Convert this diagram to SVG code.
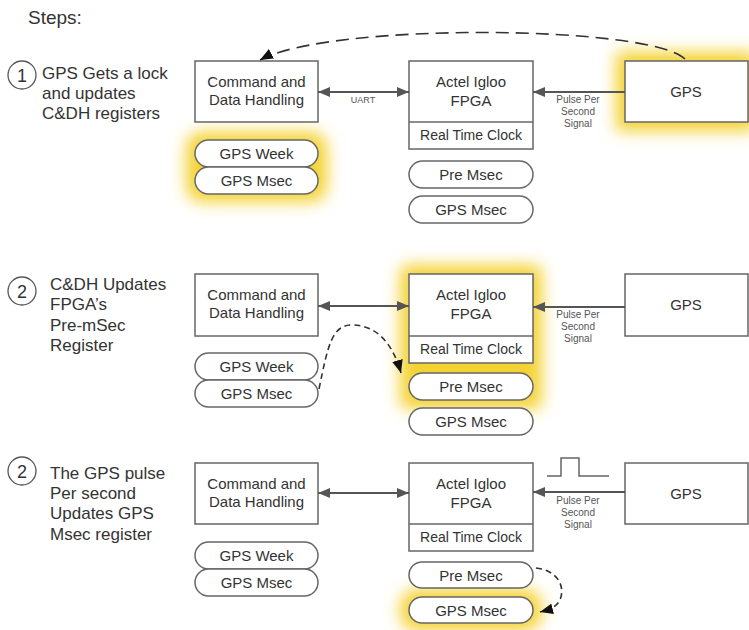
<svg xmlns="http://www.w3.org/2000/svg" width="749" height="630" viewBox="0 0 749 630">
<style>
  text { font-family: "Liberation Sans", Arial, sans-serif; fill: #333; }
  .title { font-size: 19px; }
  .step { font-size: 17px; }
  .num { font-size: 18px; text-anchor: middle; }
  .box { fill: #fff; stroke: #666; stroke-width: 1.5; }
  .lbl { font-size: 15px; text-anchor: middle; }
  .rtc { font-size: 14px; text-anchor: middle; }
  .small { font-size: 10px; text-anchor: middle; fill: #555; }
  .tiny { font-size: 9px; text-anchor: middle; fill: #555; }
  .conn { stroke: #555; stroke-width: 2; fill: none; }
  .dash { stroke: #333; stroke-width: 1.6; fill: none; }
  .glow { fill: #f4d232; filter: url(#blur); }
  .circ { fill: #fff; stroke: #555; stroke-width: 1.3; }
</style>
<defs>
  <filter id="blur" x="-50%" y="-50%" width="200%" height="200%">
    <feGaussianBlur stdDeviation="8"/>
  </filter>
  <marker id="ah" viewBox="0 0 12 10" refX="12" refY="5" markerWidth="12" markerHeight="10" markerUnits="userSpaceOnUse" orient="auto-start-reverse">
    <path d="M0,0 L12,5 L0,10 z" fill="#555"/>
  </marker>
  <marker id="dh" viewBox="0 0 12 10" refX="12" refY="5" markerWidth="13" markerHeight="11" markerUnits="userSpaceOnUse" orient="auto">
    <path d="M0,0 L12,5 L0,10 z" fill="#111"/>
  </marker>
</defs>
<rect width="749" height="630" fill="#fff"/>

<text class="title" x="28" y="24">Steps:</text>

<!-- glows -->
<g id="glows">
  <rect class="glow" x="186" y="132" width="141" height="70" rx="16"/>
  <rect class="glow" x="616" y="52" width="140" height="79"/>
  <rect class="glow" x="400" y="265" width="142" height="144" rx="8"/>
  <rect class="glow" x="400" y="589" width="142" height="42" rx="18"/>
</g>

<!-- Panel 1 -->
<g id="step1-label">
  <circle class="circ" cx="22" cy="75" r="14"/>
  <text class="num" x="22" y="81.5">1</text>
  <text class="step" x="42" y="79">GPS Gets a lock</text>
  <text class="step" x="42" y="99">and updates</text>
  <text class="step" x="42" y="119">C&amp;DH registers</text>
</g>
<g id="p1-cdh">
  <rect class="box" x="195" y="61" width="123" height="61"/>
  <text class="lbl" x="256.5" y="87">Command and</text>
  <text class="lbl" x="256.5" y="105">Data Handling</text>
</g>
<g id="p1-week">
  <rect class="box" x="195" y="140" width="123" height="27" rx="13.5"/>
  <text class="lbl" x="256.5" y="159">GPS Week</text>
</g>
<g id="p1-msec">
  <rect class="box" x="195" y="167" width="123" height="27" rx="13.5"/>
  <text class="lbl" x="256.5" y="186">GPS Msec</text>
</g>
<g id="p1-fpga">
  <rect class="box" x="409" y="61" width="124" height="88"/>
  <line x1="409" y1="122" x2="533" y2="122" stroke="#666" stroke-width="1.5"/>
  <text class="lbl" x="471" y="87">Actel Igloo</text>
  <text class="lbl" x="471" y="106">FPGA</text>
  <text class="rtc" x="471" y="140">Real Time Clock</text>
</g>
<g id="p1-pre">
  <rect class="box" x="409" y="161" width="124" height="27" rx="13.5"/>
  <text class="lbl" x="471" y="180">Pre Msec</text>
</g>
<g id="p1-fmsec">
  <rect class="box" x="409" y="196" width="124" height="27" rx="13.5"/>
  <text class="lbl" x="471" y="215">GPS Msec</text>
</g>
<g id="p1-gps">
  <rect class="box" x="625" y="61" width="123" height="61"/>
  <text class="lbl" x="686" y="96.5">GPS</text>
</g>

<!-- Panel 2 -->
<g id="step2-label">
  <circle class="circ" cx="22" cy="291" r="14"/>
  <text class="num" x="22" y="297.5">2</text>
  <text class="step" x="50" y="290">C&amp;DH Updates</text>
  <text class="step" x="50" y="310">FPGA’s</text>
  <text class="step" x="50" y="331">Pre-mSec</text>
  <text class="step" x="50" y="351">Register</text>
</g>
<g id="p2-cdh">
  <rect class="box" x="195" y="274" width="123" height="62"/>
  <text class="lbl" x="256.5" y="300">Command and</text>
  <text class="lbl" x="256.5" y="318">Data Handling</text>
</g>
<g id="p2-week">
  <rect class="box" x="195" y="353" width="123" height="27" rx="13.5"/>
  <text class="lbl" x="256.5" y="372">GPS Week</text>
</g>
<g id="p2-msec">
  <rect class="box" x="195" y="380" width="123" height="27" rx="13.5"/>
  <text class="lbl" x="256.5" y="399">GPS Msec</text>
</g>
<g id="p2-fpga">
  <rect class="box" x="409" y="274" width="124" height="89"/>
  <line x1="409" y1="336" x2="533" y2="336" stroke="#666" stroke-width="1.5"/>
  <text class="lbl" x="471" y="300">Actel Igloo</text>
  <text class="lbl" x="471" y="319">FPGA</text>
  <text class="rtc" x="471" y="354">Real Time Clock</text>
</g>
<g id="p2-pre">
  <rect class="box" x="409" y="373" width="124" height="27" rx="13.5"/>
  <text class="lbl" x="471" y="392">Pre Msec</text>
</g>
<g id="p2-fmsec">
  <rect class="box" x="409" y="408" width="124" height="27" rx="13.5"/>
  <text class="lbl" x="471" y="427">GPS Msec</text>
</g>
<g id="p2-gps">
  <rect class="box" x="625" y="274" width="123" height="62"/>
  <text class="lbl" x="686" y="310">GPS</text>
</g>

<!-- Panel 3 -->
<g id="step3-label">
  <circle class="circ" cx="22" cy="471" r="14"/>
  <text class="num" x="22" y="477.5">2</text>
  <text class="step" x="50" y="479">The GPS pulse</text>
  <text class="step" x="50" y="499">Per second</text>
  <text class="step" x="50" y="519">Updates GPS</text>
  <text class="step" x="50" y="540">Msec register</text>
</g>
<g id="p3-cdh">
  <rect class="box" x="195" y="463" width="123" height="61"/>
  <text class="lbl" x="256.5" y="489">Command and</text>
  <text class="lbl" x="256.5" y="507">Data Handling</text>
</g>
<g id="p3-week">
  <rect class="box" x="195" y="542" width="123" height="27" rx="13.5"/>
  <text class="lbl" x="256.5" y="561">GPS Week</text>
</g>
<g id="p3-msec">
  <rect class="box" x="195" y="569" width="123" height="27" rx="13.5"/>
  <text class="lbl" x="256.5" y="588">GPS Msec</text>
</g>
<g id="p3-fpga">
  <rect class="box" x="409" y="463" width="124" height="88"/>
  <line x1="409" y1="524" x2="533" y2="524" stroke="#666" stroke-width="1.5"/>
  <text class="lbl" x="471" y="489">Actel Igloo</text>
  <text class="lbl" x="471" y="508">FPGA</text>
  <text class="rtc" x="471" y="542">Real Time Clock</text>
</g>
<g id="p3-pre">
  <rect class="box" x="409" y="562" width="124" height="26" rx="13"/>
  <text class="lbl" x="471" y="580.5">Pre Msec</text>
</g>
<g id="p3-fmsec">
  <rect class="box" x="409" y="597" width="124" height="26" rx="13"/>
  <text class="lbl" x="471" y="615.5">GPS Msec</text>
</g>
<g id="p3-gps">
  <rect class="box" x="625" y="463" width="123" height="61"/>
  <text class="lbl" x="686" y="498.5">GPS</text>
</g>
<g id="p3-pulse">
  <path d="M547,476 H561 V458 H579 V476 H609" fill="none" stroke="#666" stroke-width="1.5"/>
</g>

<!-- connectors -->
<g id="connectors">
  <line class="conn" x1="318" y1="92" x2="409" y2="92" marker-start="url(#ah)" marker-end="url(#ah)"/>
  <text class="tiny" x="363" y="103">UART</text>
  <line class="conn" x1="625" y1="92" x2="533" y2="92" marker-end="url(#ah)"/>
  <text class="small" x="578" y="103">Pulse Per</text>
  <text class="small" x="578" y="115">Second</text>
  <text class="small" x="578" y="127">Signal</text>
  <path class="dash" d="M685,59 C650,25 330,22 260,60" stroke-dasharray="13,7" marker-end="url(#dh)"/>

  <line class="conn" x1="318" y1="306" x2="409" y2="306" marker-start="url(#ah)" marker-end="url(#ah)"/>
  <line class="conn" x1="625" y1="307" x2="533" y2="307" marker-end="url(#ah)"/>
  <text class="small" x="578" y="318">Pulse Per</text>
  <text class="small" x="578" y="330">Second</text>
  <text class="small" x="578" y="342">Signal</text>
  <path class="dash" d="M319,389 C328,345 332,325 352,325 C378,325 393,345 401,373" stroke-dasharray="6,4" marker-end="url(#dh)"/>

  <line class="conn" x1="318" y1="493" x2="409" y2="493" marker-start="url(#ah)" marker-end="url(#ah)"/>
  <line class="conn" x1="625" y1="492" x2="533" y2="492" marker-end="url(#ah)"/>
  <text class="small" x="578" y="504">Pulse Per</text>
  <text class="small" x="578" y="516">Second</text>
  <text class="small" x="578" y="528">Signal</text>
  <path class="dash" d="M536,568 C556,570 566,585 560,600 C557,606 552,609 540,612" stroke-dasharray="6,4" marker-end="url(#dh)"/>
</g>
</svg>
